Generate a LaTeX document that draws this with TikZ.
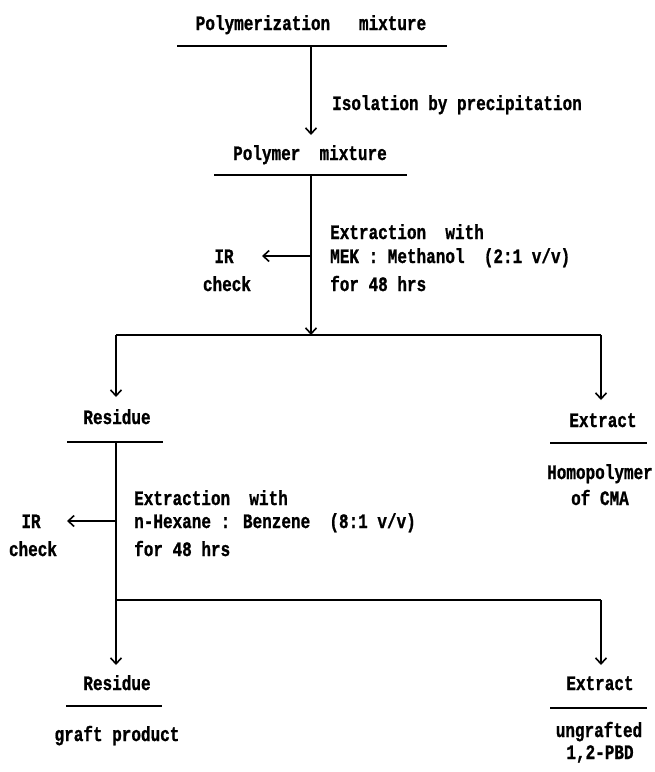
\documentclass[tikz,border=0pt]{standalone}
\usepackage{fontspec}
\usepackage{graphicx}
\setmainfont{Liberation Mono}
\newfontfamily\tfont{Liberation Mono Bold}[FakeBold=1.2]
\newcommand{\tl}[1]{\scalebox{1}[1.28]{#1}}
\usetikzlibrary{arrows.meta}
\begin{document}
\begin{tikzpicture}[x=1pt,y=-1pt,
  txt/.style={inner sep=0pt, text height=14pt, text depth=0pt, font=\fontsize{16}{18}\tfont},
  ln/.style={line width=1.6pt},
  arr/.style={line width=1.6pt, -{Straight Barb[length=6pt,width=11pt,line width=1.6pt]}}]
\useasboundingbox (0,0) rectangle (655,772);
% texts
\node[txt] (pm) at (311,23) {\tl{Polymerization\ \ \ mixture}};
\node[txt,anchor=west] (iso) at (332,103) {\tl{Isolation by precipitation}};
\node[txt] (pol) at (310,153) {\tl{Polymer\ \ mixture}};
\node[txt,anchor=west] (e1a) at (330,232) {\tl{Extraction\ \ with}};
\node[txt,anchor=west] (e1b) at (330,256) {\tl{MEK : Methanol\ \ (2:1 v/v)}};
\node[txt,anchor=west] (e1c) at (330,284) {\tl{for 48 hrs}};
\node[txt] (ir1) at (224,256) {\tl{IR}};
\node[txt] (ck1) at (227,284) {\tl{check}};
\node[txt] (res1) at (117,417) {\tl{Residue}};
\node[txt] (ext1) at (603,420) {\tl{Extract}};
\node[txt] (hom) at (600,472) {\tl{Homopolymer}};
\node[txt] (cma) at (600,498) {\tl{of CMA}};
\node[txt,anchor=west] (e2a) at (134,498) {\tl{Extraction\ \ with}};
\node[txt,anchor=west] (e2b) at (134,521) {\tl{n-Hexane : Benzene\ \ (8:1 v/v)}};
\node[txt,anchor=west] (e2c) at (134,549) {\tl{for 48 hrs}};
\node[txt] (ir2) at (31,521) {\tl{IR}};
\node[txt] (ck2) at (33,549) {\tl{check}};
\node[txt] (res2) at (117,683) {\tl{Residue}};
\node[txt] (gp) at (117,734) {\tl{graft product}};
\node[txt] (ext2) at (600,683) {\tl{Extract}};
\node[txt] (ung) at (599,730) {\tl{ungrafted}};
\node[txt] (pbd) at (600,752) {\tl{1,2-PBD}};
% coordinates
\coordinate (l1a) at (177,46); \coordinate (l1b) at (447,46); \coordinate (l1m) at (311,46);
\coordinate (t1) at (311,135);
\coordinate (l2a) at (214,175); \coordinate (l2b) at (407,175); \coordinate (l2m) at (311,175);
\coordinate (b1m) at (311,335); \coordinate (b1l) at (116,335); \coordinate (b1r) at (601,335);
\coordinate (i1s) at (311,256); \coordinate (i1t) at (262,256);
\coordinate (t2l) at (116,397); \coordinate (t2r) at (601,400);
\coordinate (l3a) at (67,442); \coordinate (l3b) at (163,442); \coordinate (l3m) at (116,442);
\coordinate (l4a) at (550,443); \coordinate (l4b) at (647,443);
\coordinate (i2s) at (116,521); \coordinate (i2t) at (67,521);
\coordinate (b2l) at (116,600); \coordinate (b2r) at (601,600);
\coordinate (t3l) at (116,665); \coordinate (t3r) at (601,665);
\coordinate (l5a) at (66,706); \coordinate (l5b) at (162,706);
\coordinate (l6a) at (550,708); \coordinate (l6b) at (647,708);
% lines
\draw[ln] (l1a) -- (l1b);
\draw[ln] (l2a) -- (l2b);
\draw[ln] (l3a) -- (l3b);
\draw[ln] (l4a) -- (l4b);
\draw[ln] (l5a) -- (l5b);
\draw[ln] (l6a) -- (l6b);
% connectors
\draw[arr] (l1m) -- (t1);
\draw[arr] (l2m) -- (b1m);
\draw[arr] (i1s) -- (i1t);
\draw[ln] (b1l) -- (b1r);
\draw[arr] (b1l) -- (t2l);
\draw[arr] (b1r) -- (t2r);
\draw[arr] (l3m) -- (t3l);
\draw[arr] (i2s) -- (i2t);
\draw[ln] (b2l) -- (b2r);
\draw[arr] (b2r) -- (t3r);
\end{tikzpicture}
\end{document}
